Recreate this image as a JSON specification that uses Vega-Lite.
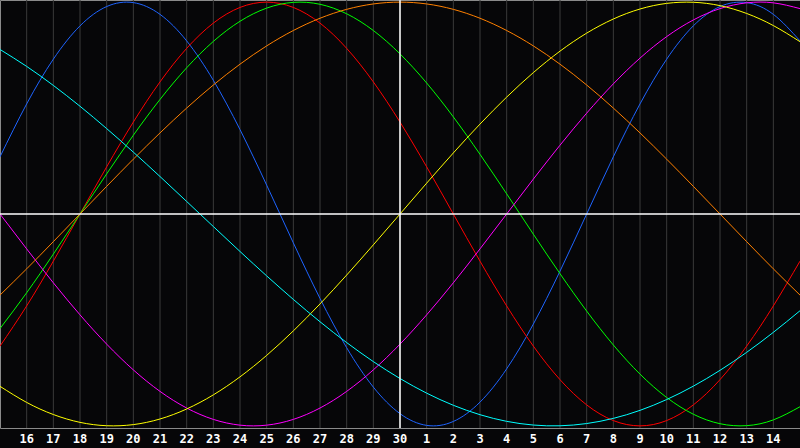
{
"$schema": "https://vega.github.io/schema/vega-lite/v6.json",
"width": 800, "height": 428,
"autosize": {"type": "none"},
"padding": {"left": 0, "top": 0, "right": 0, "bottom": 20},
"background": "#060608",
"config": {"view": {"stroke": "#8a8a8a", "strokeWidth": 1, "fill": "#060608"}},
"datasets": {
"days": [{"t":1,"d":"16"},{"t":2,"d":"17"},{"t":3,"d":"18"},{"t":4,"d":"19"},{"t":5,"d":"20"},{"t":6,"d":"21"},{"t":7,"d":"22"},{"t":8,"d":"23"},{"t":9,"d":"24"},{"t":10,"d":"25"},{"t":11,"d":"26"},{"t":12,"d":"27"},{"t":13,"d":"28"},{"t":14,"d":"29"},{"t":15,"d":"30"},{"t":16,"d":"1"},{"t":17,"d":"2"},{"t":18,"d":"3"},{"t":19,"d":"4"},{"t":20,"d":"5"},{"t":21,"d":"6"},{"t":22,"d":"7"},{"t":23,"d":"8"},{"t":24,"d":"9"},{"t":25,"d":"10"},{"t":26,"d":"11"},{"t":27,"d":"12"},{"t":28,"d":"13"},{"t":29,"d":"14"}],
"cycles": [
{"s":"physical","t":0,"v":0.2698},{"s":"physical","t":1,"v":0.5196},{"s":"physical","t":2,"v":0.7308},{"s":"physical","t":3,"v":0.8879},{"s":"physical","t":4,"v":0.9791},{"s":"physical","t":5,"v":0.9977},{"s":"physical","t":6,"v":0.9423},{"s":"physical","t":7,"v":0.8170},{"s":"physical","t":8,"v":0.6311},{"s":"physical","t":9,"v":0.3984},{"s":"physical","t":10,"v":0.1362},{"s":"physical","t":11,"v":-0.1362},{"s":"physical","t":12,"v":-0.3984},{"s":"physical","t":13,"v":-0.6311},{"s":"physical","t":14,"v":-0.8170},{"s":"physical","t":15,"v":-0.9423},{"s":"physical","t":16,"v":-0.9977},{"s":"physical","t":17,"v":-0.9791},{"s":"physical","t":18,"v":-0.8879},{"s":"physical","t":19,"v":-0.7308},{"s":"physical","t":20,"v":-0.5196},{"s":"physical","t":21,"v":-0.2698},{"s":"physical","t":22,"v":0},{"s":"physical","t":23,"v":0.2698},{"s":"physical","t":24,"v":0.5196},{"s":"physical","t":25,"v":0.7308},{"s":"physical","t":26,"v":0.8879},{"s":"physical","t":27,"v":0.9791},{"s":"physical","t":28,"v":0.9977},{"s":"physical","t":29,"v":0.9423},{"s":"physical","t":30,"v":0.8170},
{"s":"emotional","t":0,"v":-0.6235},{"s":"emotional","t":1,"v":-0.4339},{"s":"emotional","t":2,"v":-0.2225},{"s":"emotional","t":3,"v":0},{"s":"emotional","t":4,"v":0.2225},{"s":"emotional","t":5,"v":0.4339},{"s":"emotional","t":6,"v":0.6235},{"s":"emotional","t":7,"v":0.7818},{"s":"emotional","t":8,"v":0.9010},{"s":"emotional","t":9,"v":0.9749},{"s":"emotional","t":10,"v":1},{"s":"emotional","t":11,"v":0.9749},{"s":"emotional","t":12,"v":0.9010},{"s":"emotional","t":13,"v":0.7818},{"s":"emotional","t":14,"v":0.6235},{"s":"emotional","t":15,"v":0.4339},{"s":"emotional","t":16,"v":0.2225},{"s":"emotional","t":17,"v":0},{"s":"emotional","t":18,"v":-0.2225},{"s":"emotional","t":19,"v":-0.4339},{"s":"emotional","t":20,"v":-0.6235},{"s":"emotional","t":21,"v":-0.7818},{"s":"emotional","t":22,"v":-0.9010},{"s":"emotional","t":23,"v":-0.9749},{"s":"emotional","t":24,"v":-1},{"s":"emotional","t":25,"v":-0.9749},{"s":"emotional","t":26,"v":-0.9010},{"s":"emotional","t":27,"v":-0.7818},{"s":"emotional","t":28,"v":-0.6235},{"s":"emotional","t":29,"v":-0.4339},{"s":"emotional","t":30,"v":-0.2225},
{"s":"intellectual","t":0,"v":-0.5406},{"s":"intellectual","t":1,"v":-0.3717},{"s":"intellectual","t":2,"v":-0.1893},{"s":"intellectual","t":3,"v":0},{"s":"intellectual","t":4,"v":0.1893},{"s":"intellectual","t":5,"v":0.3717},{"s":"intellectual","t":6,"v":0.5406},{"s":"intellectual","t":7,"v":0.6901},{"s":"intellectual","t":8,"v":0.8146},{"s":"intellectual","t":9,"v":0.9096},{"s":"intellectual","t":10,"v":0.9718},{"s":"intellectual","t":11,"v":0.9989},{"s":"intellectual","t":12,"v":0.9898},{"s":"intellectual","t":13,"v":0.9450},{"s":"intellectual","t":14,"v":0.8660},{"s":"intellectual","t":15,"v":0.7557},{"s":"intellectual","t":16,"v":0.6182},{"s":"intellectual","t":17,"v":0.4582},{"s":"intellectual","t":18,"v":0.2817},{"s":"intellectual","t":19,"v":0.0951},{"s":"intellectual","t":20,"v":-0.0951},{"s":"intellectual","t":21,"v":-0.2817},{"s":"intellectual","t":22,"v":-0.4582},{"s":"intellectual","t":23,"v":-0.6182},{"s":"intellectual","t":24,"v":-0.7557},{"s":"intellectual","t":25,"v":-0.8660},{"s":"intellectual","t":26,"v":-0.9450},{"s":"intellectual","t":27,"v":-0.9898},{"s":"intellectual","t":28,"v":-0.9989},{"s":"intellectual","t":29,"v":-0.9718},{"s":"intellectual","t":30,"v":-0.9096},
{"s":"intuitive","t":0,"v":0},{"s":"intuitive","t":1,"v":-0.1646},{"s":"intuitive","t":2,"v":-0.3247},{"s":"intuitive","t":3,"v":-0.4759},{"s":"intuitive","t":4,"v":-0.6142},{"s":"intuitive","t":5,"v":-0.7357},{"s":"intuitive","t":6,"v":-0.8372},{"s":"intuitive","t":7,"v":-0.9158},{"s":"intuitive","t":8,"v":-0.9694},{"s":"intuitive","t":9,"v":-0.9966},{"s":"intuitive","t":10,"v":-0.9966},{"s":"intuitive","t":11,"v":-0.9694},{"s":"intuitive","t":12,"v":-0.9158},{"s":"intuitive","t":13,"v":-0.8372},{"s":"intuitive","t":14,"v":-0.7357},{"s":"intuitive","t":15,"v":-0.6142},{"s":"intuitive","t":16,"v":-0.4759},{"s":"intuitive","t":17,"v":-0.3247},{"s":"intuitive","t":18,"v":-0.1646},{"s":"intuitive","t":19,"v":0},{"s":"intuitive","t":20,"v":0.1646},{"s":"intuitive","t":21,"v":0.3247},{"s":"intuitive","t":22,"v":0.4759},{"s":"intuitive","t":23,"v":0.6142},{"s":"intuitive","t":24,"v":0.7357},{"s":"intuitive","t":25,"v":0.8372},{"s":"intuitive","t":26,"v":0.9158},{"s":"intuitive","t":27,"v":0.9694},{"s":"intuitive","t":28,"v":0.9966},{"s":"intuitive","t":29,"v":0.9966},{"s":"intuitive","t":30,"v":0.9694},
{"s":"aesthetic","t":0,"v":-0.8133},{"s":"aesthetic","t":1,"v":-0.8893},{"s":"aesthetic","t":2,"v":-0.9464},{"s":"aesthetic","t":3,"v":-0.9834},{"s":"aesthetic","t":4,"v":-0.9993},{"s":"aesthetic","t":5,"v":-0.9940},{"s":"aesthetic","t":6,"v":-0.9675},{"s":"aesthetic","t":7,"v":-0.9203},{"s":"aesthetic","t":8,"v":-0.8536},{"s":"aesthetic","t":9,"v":-0.7686},{"s":"aesthetic","t":10,"v":-0.6673},{"s":"aesthetic","t":11,"v":-0.5517},{"s":"aesthetic","t":12,"v":-0.4244},{"s":"aesthetic","t":13,"v":-0.2881},{"s":"aesthetic","t":14,"v":-0.1456},{"s":"aesthetic","t":15,"v":0},{"s":"aesthetic","t":16,"v":0.1456},{"s":"aesthetic","t":17,"v":0.2881},{"s":"aesthetic","t":18,"v":0.4244},{"s":"aesthetic","t":19,"v":0.5517},{"s":"aesthetic","t":20,"v":0.6673},{"s":"aesthetic","t":21,"v":0.7686},{"s":"aesthetic","t":22,"v":0.8536},{"s":"aesthetic","t":23,"v":0.9203},{"s":"aesthetic","t":24,"v":0.9675},{"s":"aesthetic","t":25,"v":0.9940},{"s":"aesthetic","t":26,"v":0.9993},{"s":"aesthetic","t":27,"v":0.9834},{"s":"aesthetic","t":28,"v":0.9464},{"s":"aesthetic","t":29,"v":0.8893},{"s":"aesthetic","t":30,"v":0.8133},
{"s":"awareness","t":0,"v":-0.3827},{"s":"awareness","t":1,"v":-0.2588},{"s":"awareness","t":2,"v":-0.1305},{"s":"awareness","t":3,"v":0},{"s":"awareness","t":4,"v":0.1305},{"s":"awareness","t":5,"v":0.2588},{"s":"awareness","t":6,"v":0.3827},{"s":"awareness","t":7,"v":0.5},{"s":"awareness","t":8,"v":0.6088},{"s":"awareness","t":9,"v":0.7071},{"s":"awareness","t":10,"v":0.7934},{"s":"awareness","t":11,"v":0.8660},{"s":"awareness","t":12,"v":0.9239},{"s":"awareness","t":13,"v":0.9659},{"s":"awareness","t":14,"v":0.9914},{"s":"awareness","t":15,"v":1},{"s":"awareness","t":16,"v":0.9914},{"s":"awareness","t":17,"v":0.9659},{"s":"awareness","t":18,"v":0.9239},{"s":"awareness","t":19,"v":0.8660},{"s":"awareness","t":20,"v":0.7934},{"s":"awareness","t":21,"v":0.7071},{"s":"awareness","t":22,"v":0.6088},{"s":"awareness","t":23,"v":0.5},{"s":"awareness","t":24,"v":0.3827},{"s":"awareness","t":25,"v":0.2588},{"s":"awareness","t":26,"v":0.1305},{"s":"awareness","t":27,"v":0},{"s":"awareness","t":28,"v":-0.1305},{"s":"awareness","t":29,"v":-0.2588},{"s":"awareness","t":30,"v":-0.3827},
{"s":"spiritual","t":0,"v":0.7765},{"s":"spiritual","t":1,"v":0.6966},{"s":"spiritual","t":2,"v":0.6068},{"s":"spiritual","t":3,"v":0.5085},{"s":"spiritual","t":4,"v":0.4031},{"s":"spiritual","t":5,"v":0.2921},{"s":"spiritual","t":6,"v":0.1769},{"s":"spiritual","t":7,"v":0.0592},{"s":"spiritual","t":8,"v":-0.0592},{"s":"spiritual","t":9,"v":-0.1769},{"s":"spiritual","t":10,"v":-0.2921},{"s":"spiritual","t":11,"v":-0.4031},{"s":"spiritual","t":12,"v":-0.5085},{"s":"spiritual","t":13,"v":-0.6068},{"s":"spiritual","t":14,"v":-0.6966},{"s":"spiritual","t":15,"v":-0.7765},{"s":"spiritual","t":16,"v":-0.8456},{"s":"spiritual","t":17,"v":-0.9028},{"s":"spiritual","t":18,"v":-0.9473},{"s":"spiritual","t":19,"v":-0.9786},{"s":"spiritual","t":20,"v":-0.9961},{"s":"spiritual","t":21,"v":-0.9996},{"s":"spiritual","t":22,"v":-0.9890},{"s":"spiritual","t":23,"v":-0.9646},{"s":"spiritual","t":24,"v":-0.9267},{"s":"spiritual","t":25,"v":-0.8757},{"s":"spiritual","t":26,"v":-0.8125},{"s":"spiritual","t":27,"v":-0.7378},{"s":"spiritual","t":28,"v":-0.6529},{"s":"spiritual","t":29,"v":-0.5586},{"s":"spiritual","t":30,"v":-0.4566}
]},
"layer": [
{"data": {"name": "days"},
 "mark": {"type": "rule", "color": "#3a3a3a", "strokeWidth": 1},
 "encoding": {"x": {"field": "t", "type": "quantitative", "scale": {"domain": [0, 30], "nice": false, "zero": false}, "axis": null}}},
{"data": {"name": "days"},
 "mark": {"type": "text", "color": "#ffffff", "font": "DejaVu Sans Mono", "fontWeight": "bold", "fontSize": 12, "baseline": "middle", "align": "center", "dy": 11},
 "encoding": {"x": {"field": "t", "type": "quantitative"}, "y": {"value": "height"}, "text": {"field": "d"}}},
{"data": {"name": "cycles"},
 "mark": {"type": "line", "interpolate": "natural", "strokeWidth": 1, "clip": true},
 "encoding": {
  "x": {"field": "t", "type": "quantitative"},
  "y": {"field": "v", "type": "quantitative", "scale": {"domain": [-1.01, 1.01], "nice": false, "zero": false}, "axis": null},
  "color": {"field": "s", "type": "nominal",
            "scale": {"domain": ["physical","emotional","intellectual","intuitive","aesthetic","awareness","spiritual"],
                      "range": ["#1e64ff","#ff0000","#00ff00","#ff00ff","#ffff00","#ff8000","#00ffff"]},
            "legend": null}
 }},
{"data": {"values": [{"v": 0}]},
 "mark": {"type": "rule", "color": "#ffffff", "strokeWidth": 1.5},
 "encoding": {"y": {"field": "v", "type": "quantitative"}}},
{"data": {"values": [{"t": 15}]},
 "mark": {"type": "rule", "color": "#ffffff", "strokeWidth": 1.5},
 "encoding": {"x": {"field": "t", "type": "quantitative"}}}
]
}
